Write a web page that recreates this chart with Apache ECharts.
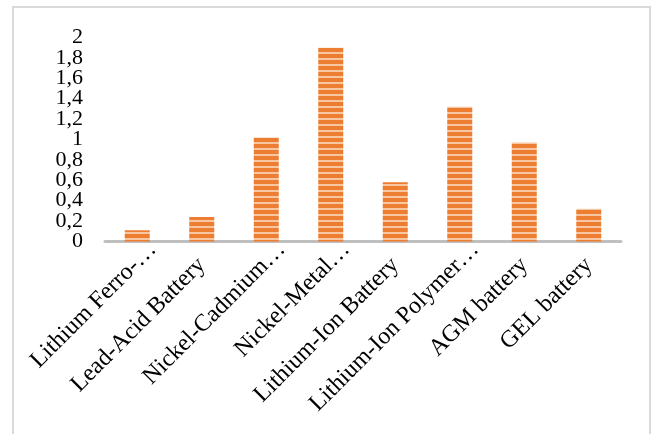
<!DOCTYPE html>
<html>
<head>
<meta charset="utf-8">
<script src="https://cdn.jsdelivr.net/npm/echarts@6/dist/echarts.min.js"></script>
<style>
  html, body { margin: 0; padding: 0; background: #fff; }
  #chart { width: 652px; height: 434px; }
</style>
</head>
<body>
<div id="chart"></div>
<script>
// Battery types shown along the category axis (as printed, shortened)
const categories = [
  'Lithium Ferro-…',
  'Lead-Acid Battery',
  'Nickel-Cadmium…',
  'Nickel-Metal…',
  'Lithium-Ion Battery',
  'Lithium-Ion Polymer…',
  'AGM battery',
  'GEL battery'
];

// One value per battery type
const values = [0.11, 0.24, 1.02, 1.9, 0.58, 1.32, 0.97, 0.32];

// Value axis range and step
const yMin = 0;
const yMax = 2;
const yStep = 0.2;

// Value-axis tick labels, bottom to top (decimal comma)
const yTickLabels = ['0', '0,2', '0,4', '0,6', '0,8', '1', '1,2', '1,4', '1,6', '1,8', '2'];

// Horizontal-stripe fill used for the bars
function stripePattern() {
  const c = document.createElement('canvas');
  c.width = 4;
  c.height = 6;
  const g = c.getContext('2d');
  g.fillStyle = '#ED7D31';
  g.fillRect(0, 0, 4, 6);
  g.fillStyle = '#F7C7A3';
  g.fillRect(0, 4, 4, 2);
  return c;
}

const chart = echarts.init(document.getElementById('chart'), null, { renderer: 'canvas' });

const serif = '"Liberation Serif", "Times New Roman", serif';

// Shortened names sit a little further out along their slant
const axisData = categories.map(name =>
  name.endsWith('…')
    ? { value: name, textStyle: { padding: [0, -22, 0, 0] } }
    : name
);

chart.setOption({
  animation: false,
  backgroundColor: '#ffffff',
  graphic: [{
    type: 'rect',
    shape: { x: 13, y: 7, width: 637, height: 440 },
    style: { fill: 'none', stroke: '#D9D9D9', lineWidth: 2 },
    silent: true
  }],
  grid: { left: 105, right: 31, top: 37.5, bottom: 192.5, containLabel: false },
  xAxis: {
    type: 'category',
    data: axisData,
    axisLine: { show: true, lineStyle: { color: '#BFBFBF', width: 3 } },
    axisTick: { show: false },
    axisLabel: {
      interval: 0,
      rotate: 45,
      margin: 20,
      color: '#000',
      fontFamily: serif,
      fontSize: 24
    }
  },
  yAxis: [{
    // scale for the bars
    type: 'value',
    min: yMin,
    max: yMax,
    interval: yStep,
    axisLine: { show: false },
    axisTick: { show: false },
    splitLine: { show: false },
    axisLabel: { show: false }
  }, {
    // evenly spaced tick labels over the same span, every one shown
    type: 'category',
    position: 'left',
    boundaryGap: false,
    data: yTickLabels,
    axisLine: { show: false },
    axisTick: { show: false },
    splitLine: { show: false },
    axisLabel: {
      interval: 0,
      margin: 22,
      color: '#000',
      fontFamily: serif,
      fontSize: 22
    }
  }],
  series: [{
    type: 'bar',
    yAxisIndex: 0,
    data: values,
    barWidth: 25,
    itemStyle: {
      color: { image: stripePattern(), repeat: 'repeat' }
    }
  }]
});
</script>
</body>
</html>
